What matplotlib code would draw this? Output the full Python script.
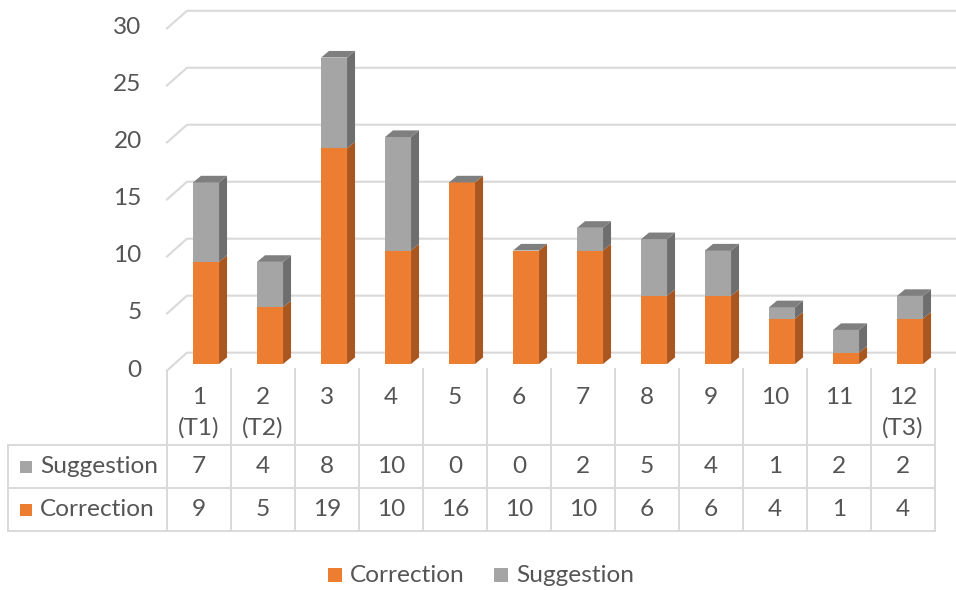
import matplotlib
matplotlib.use("Agg")
import matplotlib.pyplot as plt
from matplotlib.patches import Polygon, Rectangle
from matplotlib.transforms import blended_transform_factory

# ---- data ----
categories = ["1\n(T1)", "2\n(T2)", "3", "4", "5", "6", "7", "8", "9", "10", "11", "12\n(T3)"]
correction = [9, 5, 19, 10, 16, 10, 10, 6, 6, 4, 1, 4]
suggestion = [7, 4, 8, 10, 0, 0, 2, 5, 4, 1, 2, 2]
y_ticks = [0, 5, 10, 15, 20, 25, 30]

# ---- styling ----
ORANGE = "#ED7D31"
ORANGE_SIDE = "#A9561F"
GRAY = "#A5A5A5"
GRAY_SIDE = "#6E6E6E"
GRAY_TOP = "#7F7F7F"
TEXT = "#555555"
GRID = "#D9D9D9"
FONT = ["Lato", "DejaVu Sans"]
FS = 17.6

plt.rcParams["font.family"] = FONT

W_PX, H_PX = 956, 590
fig = plt.figure(figsize=(W_PX / 100, H_PX / 100), dpi=100)

# full-figure canvas in pixel units for the data table and legend
canvas = fig.add_axes([0, 0, 1, 1])
canvas.set_xlim(0, W_PX)
canvas.set_ylim(H_PX, 0)
canvas.axis("off")

# plotting area for the columns
plot_left, plot_right = 167, 935
base_y, px_per_unit = 364, 11.35
ymax = 30
ax = fig.add_axes([plot_left / W_PX, (H_PX - base_y) / H_PX,
                   (plot_right - plot_left) / W_PX, ymax * px_per_unit / H_PX])
n = len(categories)
ax.set_xlim(-0.5, n - 0.5)
ax.set_ylim(0, ymax)
ax.axis("off")

col_w_px = (plot_right - plot_left) / n

# back wall gridlines with the slanted side-wall segment
xa_trans = blended_transform_factory(ax.transAxes, ax.transData)
back_x = (187 - plot_left) / (plot_right - plot_left)
right_x = (955 - plot_left) / (plot_right - plot_left)
for v in y_ticks:
    yb = 1.0 + v * 1.004
    yf = v * 1.005 - 0.58
    ax.plot([0, back_x, right_x], [yf, yb, yb], color=GRID, lw=1.5,
            transform=xa_trans, clip_on=False, zorder=1, solid_joinstyle="round")
    ax.text(-0.033, yf + 0.05, str(v), transform=xa_trans, ha="right", va="center",
            fontsize=FS, color=TEXT, clip_on=False)

# 3D-looking stacked columns
shift = 0.11
bw = 26 / col_w_px
ddx = 8 / col_w_px
ddy = 6.6 / px_per_unit
xs = [i + shift for i in range(n)]

ax.bar(xs, correction, width=bw, color=ORANGE, zorder=3, linewidth=0)
ax.bar(xs, suggestion, width=bw, bottom=correction, color=GRAY, zorder=3, linewidth=0)

for x, c, s in zip(xs, correction, suggestion):
    x0, x1 = x - bw / 2, x + bw / 2
    top = c + s
    # side faces
    for b, t, col in ((0, c, ORANGE_SIDE), (c, top, GRAY_SIDE)):
        if t > b:
            ax.add_patch(Polygon([(x1, b), (x1 + ddx, b + ddy), (x1 + ddx, t + ddy), (x1, t)],
                                 closed=True, facecolor=col, edgecolor="none", zorder=3))
    # top face
    ax.add_patch(Polygon([(x0, top), (x1, top), (x1 + ddx, top + ddy), (x0 + ddx, top + ddy)],
                         closed=True, facecolor=GRAY_TOP, edgecolor="none", zorder=3))

# ---- data table ----
tab_left = 8
row_cat_top, row1_top, row2_top, row_bottom = 369, 445, 488, 531
line_kw = dict(color=GRID, lw=1.4, zorder=1)
col_trans = blended_transform_factory(ax.transData, canvas.transData)

for i in range(n + 1):
    xb = i - 0.5
    top_y = row_cat_top + (3 if i == 0 else 0)
    canvas.plot([xb, xb], [top_y, row_bottom], transform=col_trans, clip_on=False, **line_kw)
for yy in (row1_top, row2_top, row_bottom):
    canvas.plot([tab_left, plot_right], [yy, yy], **line_kw)
canvas.plot([tab_left, tab_left], [row1_top, row_bottom], **line_kw)

for i, lab in enumerate(categories):
    parts = lab.split("\n")
    canvas.text(i, 397, parts[0], transform=col_trans, ha="center", va="center",
                fontsize=FS, color=TEXT)
    if len(parts) > 1:
        canvas.text(i, 428, parts[1], transform=col_trans, ha="center", va="center",
                    fontsize=FS, color=TEXT)

row_mid_s = (row1_top + row2_top) / 2
row_mid_c = (row2_top + row_bottom) / 2
for i, (c, s) in enumerate(zip(correction, suggestion)):
    canvas.text(i, row_mid_s, str(s), transform=col_trans, ha="center", va="center",
                fontsize=FS, color=TEXT)
    canvas.text(i, row_mid_c, str(c), transform=col_trans, ha="center", va="center",
                fontsize=FS, color=TEXT)

for ymid, name, col in ((row_mid_s, "Suggestion", GRAY), (row_mid_c, "Correction", ORANGE)):
    canvas.add_patch(Rectangle((20, ymid - 6), 12, 12, facecolor=col, edgecolor="none"))
    canvas.text(40, ymid, name, ha="left", va="center", fontsize=FS, color=TEXT)

# ---- legend ----
leg_y = 575
for x_sq, name, col in ((328, "Correction", ORANGE), (494, "Suggestion", GRAY)):
    canvas.add_patch(Rectangle((x_sq, leg_y - 7), 14, 14, facecolor=col, edgecolor="none"))
    canvas.text(x_sq + 22, leg_y, name, ha="left", va="center", fontsize=FS, color=TEXT)

fig.savefig("out.png", dpi=100, facecolor="white")
